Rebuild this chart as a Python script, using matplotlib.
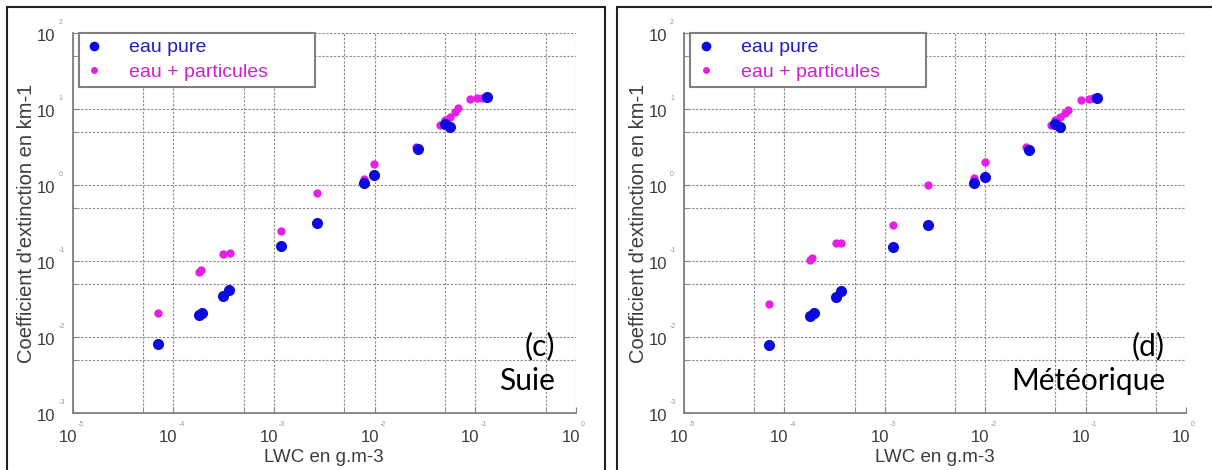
import matplotlib
matplotlib.use("Agg")
import matplotlib.pyplot as plt
from matplotlib.lines import Line2D
from matplotlib.patches import Rectangle
import matplotlib.transforms as mtransforms

# Données (LWC en g.m-3, extinction en km-1)
# (c) Suie
c_pure_x = [7.0e-5, 1.8e-4, 1.95e-4, 3.1e-4, 3.6e-4, 1.17e-3, 2.7e-3, 7.8e-3, 9.8e-3, 0.027, 0.050, 0.056, 0.13]
c_pure_y = [0.008, 0.0195, 0.0205, 0.035, 0.0415, 0.158, 0.32, 1.05, 1.35, 3.0, 6.3, 5.8, 14.5]
c_part_x = [7.0e-5, 1.8e-4, 1.9e-4, 3.1e-4, 3.7e-4, 1.17e-3, 2.7e-3, 7.8e-3, 9.8e-3, 0.026, 0.045, 0.050, 0.056, 0.063, 0.068, 0.089, 0.103, 0.116]
c_part_y = [0.0205, 0.072, 0.077, 0.125, 0.127, 0.25, 0.79, 1.2, 1.87, 3.2, 6.2, 7.2, 7.9, 9.2, 10.2, 13.5, 13.8, 14.0]

# (d) Météorique
d_pure_x = [7.1e-5, 1.8e-4, 1.97e-4, 3.24e-4, 3.7e-4, 1.2e-3, 2.67e-3, 7.7e-3, 9.95e-3, 0.027, 0.050, 0.0556, 0.129]
d_pure_y = [0.0078, 0.019, 0.0205, 0.034, 0.040, 0.151, 0.30, 1.05, 1.29, 2.88, 6.4, 5.85, 14.1]
d_part_x = [7.1e-5, 1.8e-4, 1.9e-4, 3.24e-4, 3.7e-4, 1.2e-3, 2.67e-3, 7.7e-3, 9.95e-3, 0.0255, 0.0457, 0.050, 0.056, 0.062, 0.067, 0.091, 0.107, 0.118]
d_part_y = [0.027, 0.103, 0.108, 0.171, 0.171, 0.295, 1.0, 1.25, 2.0, 3.19, 6.2, 7.1, 7.9, 8.8, 9.7, 13.1, 13.5, 13.8]

panels = [
    ("(c)", "Suie", c_pure_x, c_pure_y, c_part_x, c_part_y),
    ("(d)", "Météorique", d_pure_x, d_pure_y, d_part_x, d_part_y),
]

major_x = [1e-5, 1e-4, 1e-3, 1e-2, 1e-1, 1e0]
minor_x = [5e-5, 5e-4, 5e-3, 5e-2, 5e-1]
major_y = [1e-3, 1e-2, 1e-1, 1e0, 1e1, 1e2]
minor_y = [5e-3, 5e-2, 5e-1, 5e0, 5e1]
exp_x = ["-5", "-4", "-3", "-2", "-1", "0"]
exp_y = ["-3", "-2", "-1", "0", "1", "2"]

blue = "#0a0ade"
magenta = "#e61ee6"
grey = "#808080"
txt = "#3c3c3c"

fig = plt.figure(figsize=(12.12, 4.70), dpi=100)
plt.rcParams['font.family'] = ['Liberation Sans', 'DejaVu Sans']

# cadres autour de chaque panneau
fig.patches.append(Rectangle((7 / 1212, -0.01), 598 / 1212, 1 - 7 / 470 + 0.01, transform=fig.transFigure,
                             fill=False, edgecolor="#222222", linewidth=1.5))
fig.patches.append(Rectangle((617 / 1212, -0.01), 600 / 1212, 1 - 7 / 470 + 0.01, transform=fig.transFigure,
                             fill=False, edgecolor="#222222", linewidth=1.5))

lefts = [72.5 / 1212, 684 / 1212]
widths = [503.5 / 1212, 502 / 1212]

for i, (tag, name, px, py, qx, qy) in enumerate(panels):
    ax = fig.add_axes([lefts[i], 1 - 413 / 470, widths[i], 380 / 470])
    ax.set_xscale("log")
    ax.set_yscale("log")
    ax.set_xlim(1e-5, 1e0)
    ax.set_ylim(1e-3, 1e2)

    ax.set_xticks(major_x)
    ax.set_xticks(minor_x, minor=True)
    ax.set_yticks(major_y)
    ax.set_yticks(minor_y, minor=True)
    ax.tick_params(which="both", labelbottom=False, labelleft=False, direction="in", color=grey)
    ax.tick_params(which="major", length=4)
    ax.tick_params(which="minor", length=3)
    ax.grid(True, which="both", linestyle=(0, (2, 1.5)), color="#8a8a8a", linewidth=0.8)
    ax.set_axisbelow(True)
    for s in ["top", "right"]:
        ax.spines[s].set_visible(False)
    for s in ["left", "bottom"]:
        ax.spines[s].set_color(grey)
        ax.spines[s].set_linewidth(1.3)

    # étiquettes façon MATLAB : "10" + petit exposant
    tx = mtransforms.blended_transform_factory(ax.transData, ax.transAxes)
    ty = mtransforms.blended_transform_factory(ax.transAxes, ax.transData)
    for v, e in zip(major_x, exp_x):
        ax.text(v, 0, "10", transform=tx + mtransforms.ScaledTranslation(-5 / 100, -25 / 100, fig.dpi_scale_trans),
                ha="center", va="center", fontsize=12, color=txt)
        ax.text(v, 0, e, transform=tx + mtransforms.ScaledTranslation(5 / 100, -12 / 100, fig.dpi_scale_trans),
                ha="left", va="center", fontsize=5, color="#999999")
    for v, e in zip(major_y, exp_y):
        ax.text(0, v, "10", transform=ty + mtransforms.ScaledTranslation(-17 / 100, -4 / 100, fig.dpi_scale_trans),
                ha="right", va="center", fontsize=12, color=txt)
        ax.text(0, v, e, transform=ty + mtransforms.ScaledTranslation(-14 / 100, 10 / 100, fig.dpi_scale_trans),
                ha="left", va="center", fontsize=5, color="#999999")

    ax.set_xlabel("LWC en g.m-3", fontsize=13.5, color=txt, labelpad=26)
    ax.set_ylabel("Coefficient d'extinction en km-1", fontsize=14.5, color=txt, labelpad=26)

    ax.plot(qx, qy, "o", color=magenta, markersize=6, markeredgewidth=0, zorder=3)
    ax.plot(px, py, "o", color=blue, markersize=8, markeredgewidth=0, zorder=4)

    handles = [Line2D([], [], marker="o", linestyle="", color=blue, markersize=7, markeredgewidth=0),
               Line2D([], [], marker="o", linestyle="", color=magenta, markersize=5, markeredgewidth=0)]
    leg = ax.legend(handles, ["eau pure", "eau + particules"], loc="upper left",
                    bbox_to_anchor=(6 / 503, 0.5, 236 / 503, 0.5), mode="expand", borderaxespad=0,
                    fontsize=14, fancybox=False, framealpha=1, edgecolor=grey,
                    handlelength=1.0, handletextpad=1.3, borderpad=0.3, labelspacing=0.35)
    leg.get_frame().set_linewidth(1.5)
    leg.get_texts()[0].set_color("#2020c0")
    leg.get_texts()[1].set_color("#d020d0")

    ax.text(0.958, 0.177, tag, transform=ax.transAxes, ha="right", va="center",
            fontsize=21.5, family="Lato", color="black")
    ax.text(0.958, 0.085, name, transform=ax.transAxes, ha="right", va="center",
            fontsize=21.5, family="Lato", color="black")

plt.savefig("out.png", dpi=100)
